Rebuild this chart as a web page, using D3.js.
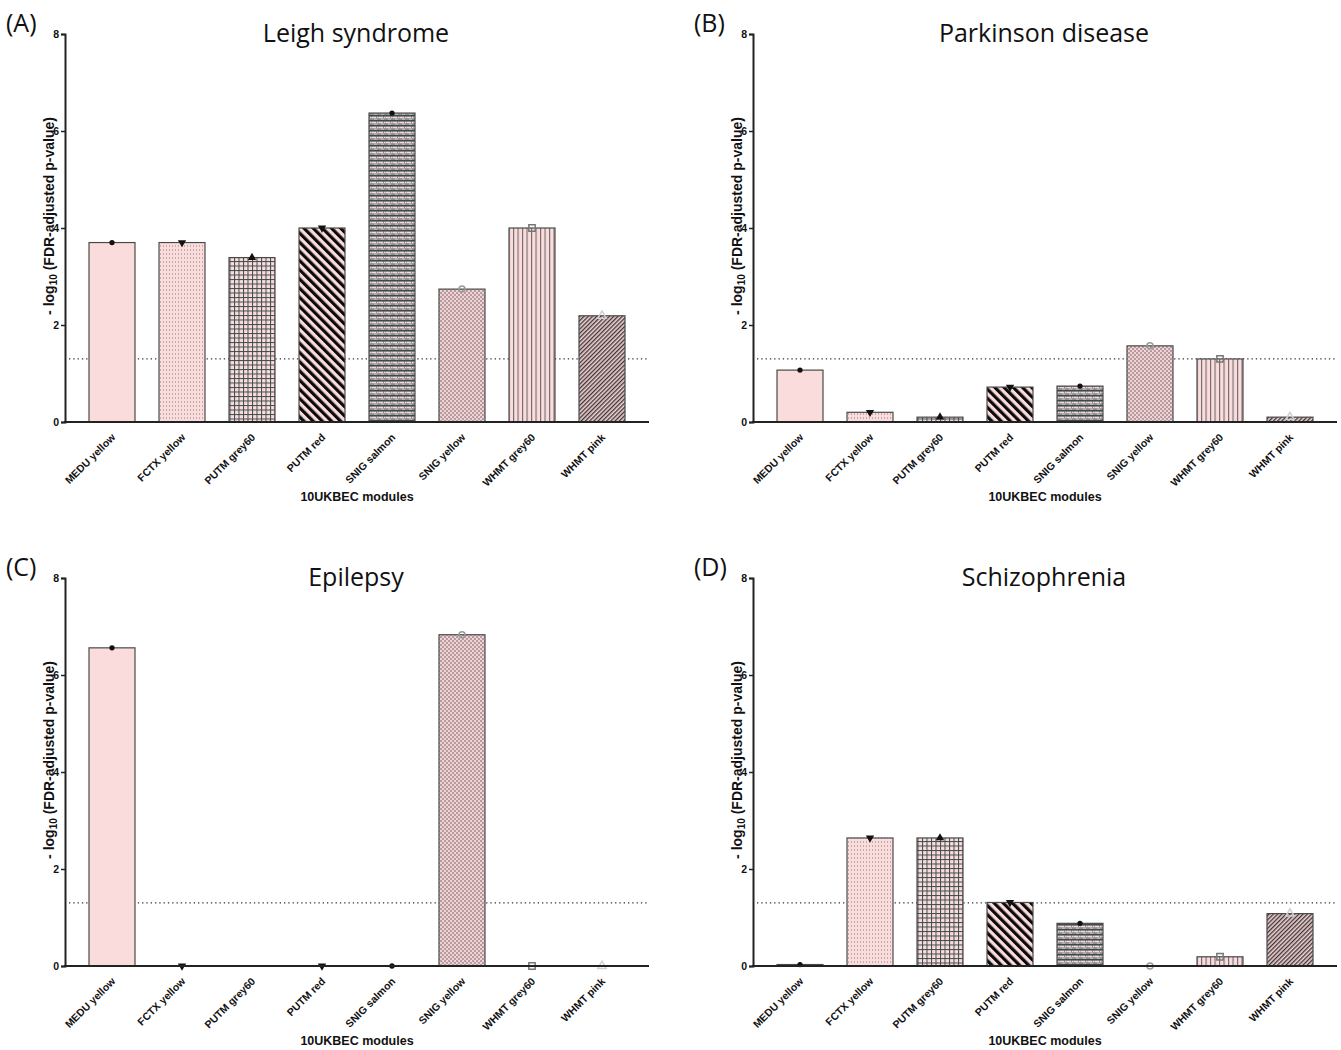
<!DOCTYPE html>
<html>
<head>
<meta charset="utf-8">
<script src="https://cdn.jsdelivr.net/npm/d3@7"></script>
<style>
  body { margin: 0; background: #fff; }
  svg { display: block; }
  .tick-lbl, .x-lbl, .ax-title { font-family: "Liberation Sans", Arial, sans-serif; font-weight: bold; fill: #111; }
  .panel-title { font-family: "Open Sans", sans-serif; font-size: 25px; fill: #111; }
  .panel-letter { font-family: "Open Sans", sans-serif; font-size: 25px; fill: #111; }
</style>
</head>
<body>
<div id="chart"></div>
<script>
// modules on the x axis (same for all 4 panels)
var modules = ["MEDU yellow", "FCTX yellow", "PUTM grey60", "PUTM red", "SNIG salmon", "SNIG yellow", "WHMT grey60", "WHMT pink"];

// -log10 FDR p values (null = no point drawn)
var leigh = [3.70, 3.70, 3.39, 4.00, 6.37, 2.74, 4.00, 2.19];
var parkinson = [1.07, 0.20, 0.10, 0.72, 0.74, 1.57, 1.30, 0.10];
var epilepsy = [6.56, 0, null, 0, 0, 6.83, 0, 0];
var schizophrenia = [0.03, 2.64, 2.64, 1.31, 0.88, 0, 0.19, 1.08];

var panelTitles = ["Leigh syndrome", "Parkinson disease", "Epilepsy", "Schizophrenia"];
var panelLetters = ["(A)", "(B)", "(C)", "(D)"];
var yTicks = [0, 2, 4, 6, 8];
var threshold = 1.3; // -log10(0.05)

var width = 1341, heigth = 1050;
var pink = "#fbdcdd";

var svg = d3.select("#chart").append("svg")
    .attr("width", width)
    .attr("height", heigth);

var defs = svg.append("defs");
makePatterns(defs);

var panels = [
    { vals: leigh, ox: 0, oy: 0 },
    { vals: parkinson, ox: 688, oy: 0 },
    { vals: epilepsy, ox: 0, oy: 544 },
    { vals: schizophrenia, ox: 688, oy: 544 }
];

panels.forEach(function (p, i) {
    drawPanel(p, i);
});

function drawPanel(p, i) {
    var x0 = 65, x1 = 649, yTop = 34, yBot = 422;
    var g = svg.append("g").attr("transform", "translate(" + p.ox + "," + p.oy + ")");

    var x = d3.scaleBand().domain(modules).range([x0, x1])
        .paddingInner(0.343).paddingOuter(0.343);
    var y = d3.scaleLinear().domain([0, 8]).range([yBot, yTop]);

    // threshold line (behind the bars)
    g.append("line")
        .attr("x1", x0 + 4).attr("x2", x1)
        .attr("y1", y(threshold)).attr("y2", y(threshold))
        .attr("stroke", "#333").attr("stroke-width", 1.3)
        .attr("stroke-dasharray", "1.3,3");

    // bars
    g.selectAll(".bar").data(p.vals).enter().append("rect")
        .attr("class", "bar")
        .attr("x", function (d, j) { return x(modules[j]); })
        .attr("width", x.bandwidth())
        .attr("y", function (d) { return y(d || 0); })
        .attr("height", function (d) { return yBot - y(d || 0); })
        .attr("fill", function (d, j) { return "url(#pat" + j + ")"; })
        .attr("stroke", "#4a4a4a")
        .attr("stroke-width", function (d) { return d > 0 ? 1.2 : 0; });

    // markers on top of each bar
    var pts = p.vals.map(function (d, j) { return { v: d, j: j }; })
        .filter(function (d) { return d.v != null; });
    g.selectAll(".mk").data(pts).enter().append("path")
        .attr("class", "mk")
        .attr("transform", function (d) {
            var rot = (d.j == 1 || d.j == 3) ? " rotate(180)" : "";
            return "translate(" + (x(modules[d.j]) + x.bandwidth() / 2) + "," + y(d.v) + ")" + rot;
        })
        .attr("d", function (d) { return markerPath(d.j); })
        .attr("fill", function (d) { return d.j < 5 ? "#111" : "none"; })
        .attr("stroke", function (d) { return d.j < 5 ? "none" : (d.j == 5 ? "#9a9a9a" : (d.j == 6 ? "#777" : "#d0d0d0")); })
        .attr("stroke-width", 1.5);

    // y axis
    var yAxis = d3.axisLeft(y).tickValues(yTicks).tickSize(4).tickPadding(2);
    var ya = g.append("g").attr("transform", "translate(" + x0 + ",0)").call(yAxis);
    ya.select(".domain").attr("stroke", "#222").attr("stroke-width", 2);
    ya.selectAll(".tick line").attr("stroke", "#222").attr("stroke-width", 1.5);
    ya.selectAll(".tick text").attr("class", "tick-lbl").style("font-size", "10.5px").attr("fill", "#111");

    // x axis line
    g.append("line")
        .attr("x1", x0 - 1).attr("x2", x1)
        .attr("y1", yBot).attr("y2", yBot)
        .attr("stroke", "#222").attr("stroke-width", 2);

    // x labels rotated
    g.selectAll(".x-lbl").data(modules).enter().append("text")
        .attr("class", "x-lbl")
        .style("font-size", "10.5px")
        .attr("text-anchor", "end")
        .attr("transform", function (d) {
            return "translate(" + (x(d) + x.bandwidth() / 2 + 4) + "," + (yBot + 16) + ") rotate(-45)";
        })
        .text(function (d) { return d; });

    g.append("text")
        .attr("class", "ax-title")
        .style("font-size", "12.5px")
        .attr("text-anchor", "middle")
        .attr("x", (x0 + x1) / 2)
        .attr("y", yBot + 79)
        .text("10UKBEC modules");

    // y title with subscript
    var yt = g.append("text")
        .attr("class", "ax-title")
        .style("font-size", "14px")
        .attr("text-anchor", "middle")
        .attr("transform", "translate(54," + ((yTop + yBot) / 2 - 12) + ") rotate(-90)");
    yt.append("tspan").text("- log");
    yt.append("tspan").attr("dy", 3).style("font-size", "10px").text("10");
    yt.append("tspan").attr("dy", -3).text(" (FDR-adjusted p-value)");

    g.append("text")
        .attr("class", "panel-title")
        .attr("text-anchor", "middle")
        .attr("x", (x0 + x1) / 2 - 1)
        .attr("y", 42)
        .text(panelTitles[i]);

    g.append("text")
        .attr("class", "panel-letter")
        .attr("x", 6)
        .attr("y", 32)
        .text(panelLetters[i]);
}

function markerPath(j) {
    if (j == 0 || j == 4) return d3.symbol().type(d3.symbolCircle).size(22)();
    if (j == 1 || j == 2 || j == 3) return d3.symbol().type(d3.symbolTriangle).size(30)();
    if (j == 5) return d3.symbol().type(d3.symbolCircle).size(28)();
    if (j == 6) return d3.symbol().type(d3.symbolSquare).size(40)();
    return d3.symbol().type(d3.symbolTriangle).size(30)();
}

function makePatterns(defs) {
    // 0: plain pink
    var p0 = defs.append("pattern").attr("id", "pat0").attr("patternUnits", "userSpaceOnUse")
        .attr("width", 4).attr("height", 4);
    p0.append("rect").attr("width", 4).attr("height", 4).attr("fill", pink);

    // 1: fine dots
    var p1 = defs.append("pattern").attr("id", "pat1").attr("patternUnits", "userSpaceOnUse")
        .attr("width", 3).attr("height", 4);
    p1.append("rect").attr("width", 3).attr("height", 4).attr("fill", pink);
    p1.append("rect").attr("x", 1).attr("y", 1.5).attr("width", 1).attr("height", 1).attr("fill", "#8a7a7b");

    // 2: grid / plaid
    var p2 = defs.append("pattern").attr("id", "pat2").attr("patternUnits", "userSpaceOnUse")
        .attr("width", 4.5).attr("height", 4.5);
    p2.append("rect").attr("width", 4.5).attr("height", 4.5).attr("fill", pink);
    p2.append("rect").attr("x", 0).attr("y", 0).attr("width", 1).attr("height", 4.5).attr("fill", "#3d4c4c");
    p2.append("rect").attr("x", 0).attr("y", 0).attr("width", 4.5).attr("height", 1).attr("fill", "#3d4c4c");

    // 3: thick black diagonal stripes
    var p3 = defs.append("pattern").attr("id", "pat3").attr("patternUnits", "userSpaceOnUse")
        .attr("width", 6.5).attr("height", 6.5).attr("patternTransform", "rotate(-45)");
    p3.append("rect").attr("width", 6.5).attr("height", 6.5).attr("fill", pink);
    p3.append("rect").attr("width", 3.2).attr("height", 6.5).attr("fill", "#0a0a0a");

    // 4: rows of pink dashes on dark teal grey
    var p4 = defs.append("pattern").attr("id", "pat4").attr("patternUnits", "userSpaceOnUse")
        .attr("width", 7).attr("height", 5);
    p4.append("rect").attr("width", 7).attr("height", 5).attr("fill", "#8c8e8f");
    p4.append("rect").attr("x", 0).attr("y", 0).attr("width", 7).attr("height", 1.4).attr("fill", "#3b4b4c");
    p4.append("rect").attr("x", 0.5).attr("y", 1.8).attr("width", 4.5).attr("height", 1.4).attr("fill", "#f6dadb");
    p4.append("rect").attr("x", 6).attr("y", 1.8).attr("width", 1).attr("height", 1.4).attr("fill", "#f6dadb");
    p4.append("rect").attr("x", 3).attr("y", 3.6).attr("width", 3).attr("height", 1).attr("fill", "#e0c4c6");

    // 5: small weave dots
    var p5 = defs.append("pattern").attr("id", "pat5").attr("patternUnits", "userSpaceOnUse")
        .attr("width", 4).attr("height", 4);
    p5.append("rect").attr("width", 4).attr("height", 4).attr("fill", "#f3d3d5");
    p5.append("ellipse").attr("cx", 1).attr("cy", 1).attr("rx", 1.1).attr("ry", 0.7).attr("fill", "#7f6d6f");
    p5.append("ellipse").attr("cx", 3).attr("cy", 3).attr("rx", 1.1).attr("ry", 0.7).attr("fill", "#7f6d6f");

    // 6: vertical stripes
    var p6 = defs.append("pattern").attr("id", "pat6").attr("patternUnits", "userSpaceOnUse")
        .attr("width", 4.5).attr("height", 4);
    p6.append("rect").attr("width", 4.5).attr("height", 4).attr("fill", pink);
    p6.append("rect").attr("x", 0).attr("width", 1.1).attr("height", 4).attr("fill", "#6f6a6a");

    // 7: fine diagonal hatch
    var p7 = defs.append("pattern").attr("id", "pat7").attr("patternUnits", "userSpaceOnUse")
        .attr("width", 3).attr("height", 3).attr("patternTransform", "rotate(45)");
    p7.append("rect").attr("width", 3).attr("height", 3).attr("fill", "#ecd0d1");
    p7.append("rect").attr("width", 1.3).attr("height", 3).attr("fill", "#3e3435");
}
</script>
</body>
</html>
